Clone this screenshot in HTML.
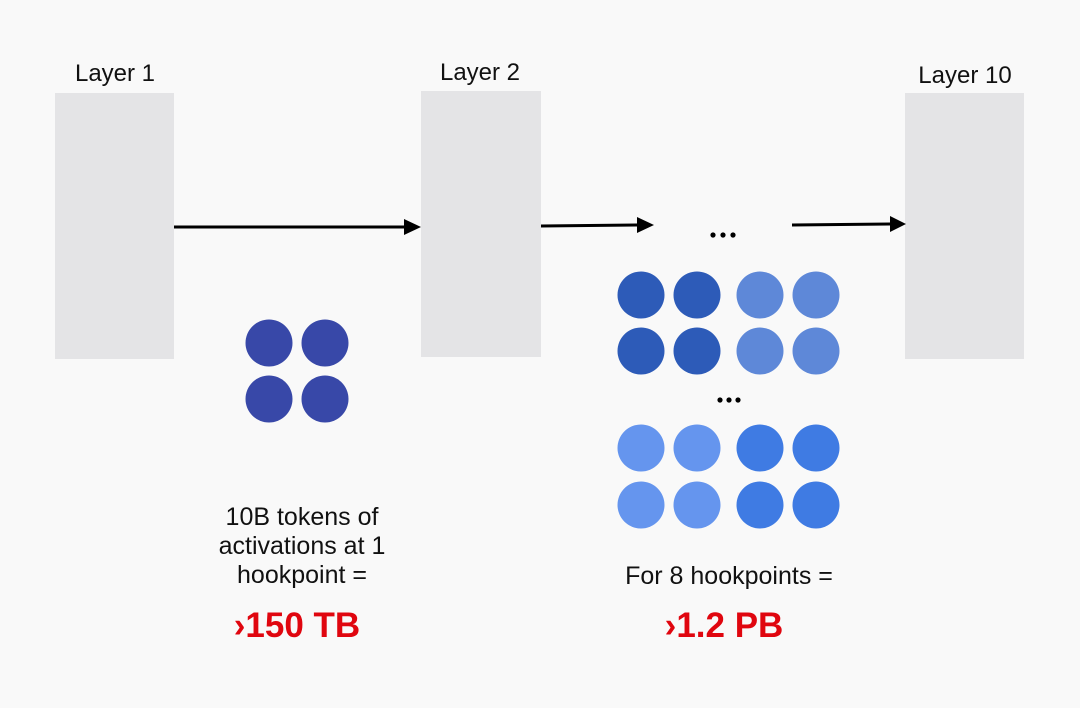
<!DOCTYPE html>
<html><head><style>
html,body{margin:0;padding:0;background:#f9f9f9;}
svg{display:block}
text{font-family:"Liberation Sans",sans-serif;}
</style></head><body>
<svg width="1080" height="708" viewBox="0 0 1080 708">
<rect width="1080" height="708" fill="#f9f9f9"/>
<rect x="55" y="93" width="119" height="266" fill="#e4e4e6"/>
<rect x="421" y="91" width="120" height="266" fill="#e4e4e6"/>
<rect x="905" y="93" width="119" height="266" fill="#e4e4e6"/>
<g font-size="24" fill="#111" text-anchor="middle">
<text x="115" y="81">Layer 1</text>
<text x="480" y="80">Layer 2</text>
<text x="965" y="83">Layer 10</text>
</g>
<g stroke="#000" stroke-width="3">
<line x1="174" y1="227" x2="406" y2="227"/>
<line x1="541" y1="226" x2="638" y2="225"/>
<line x1="792" y1="225" x2="891" y2="224"/>
</g>
<g fill="#000">
<polygon points="404,219 421,227 404,235"/>
<polygon points="637,217 654,225 637,233"/>
<polygon points="890,216 906,224 890,232"/>
<circle cx="713" cy="235" r="2.6"/><circle cx="723" cy="235" r="2.6"/><circle cx="733" cy="235" r="2.6"/>
<circle cx="720" cy="400" r="2.6"/><circle cx="729" cy="400" r="2.6"/><circle cx="738" cy="400" r="2.6"/>
</g>
<g fill="#3848a8">
<circle cx="269" cy="343" r="23.5"/><circle cx="325" cy="343" r="23.5"/>
<circle cx="269" cy="399" r="23.5"/><circle cx="325" cy="399" r="23.5"/>
</g>
<g fill="#2d5bb8">
<circle cx="641" cy="295" r="23.5"/><circle cx="697" cy="295" r="23.5"/>
<circle cx="641" cy="351" r="23.5"/><circle cx="697" cy="351" r="23.5"/>
</g>
<g fill="#5e88d8">
<circle cx="760" cy="295" r="23.5"/><circle cx="816" cy="295" r="23.5"/>
<circle cx="760" cy="351" r="23.5"/><circle cx="816" cy="351" r="23.5"/>
</g>
<g fill="#6595ee">
<circle cx="641" cy="448" r="23.5"/><circle cx="697" cy="448" r="23.5"/>
<circle cx="641" cy="505" r="23.5"/><circle cx="697" cy="505" r="23.5"/>
</g>
<g fill="#3f7be3">
<circle cx="760" cy="448" r="23.5"/><circle cx="816" cy="448" r="23.5"/>
<circle cx="760" cy="505" r="23.5"/><circle cx="816" cy="505" r="23.5"/>
</g>
<g font-size="25" fill="#111" text-anchor="middle">
<text x="302" y="525">10B tokens of</text>
<text x="302" y="554">activations at 1</text>
<text x="302" y="583">hookpoint =</text>
<text x="729" y="584">For 8 hookpoints =</text>
</g>
<g font-size="35" font-weight="bold" fill="#e0060f" text-anchor="middle">
<text x="297" y="637">›150 TB</text>
<text x="724" y="637">›1.2 PB</text>
</g>
</svg>
</body></html>
